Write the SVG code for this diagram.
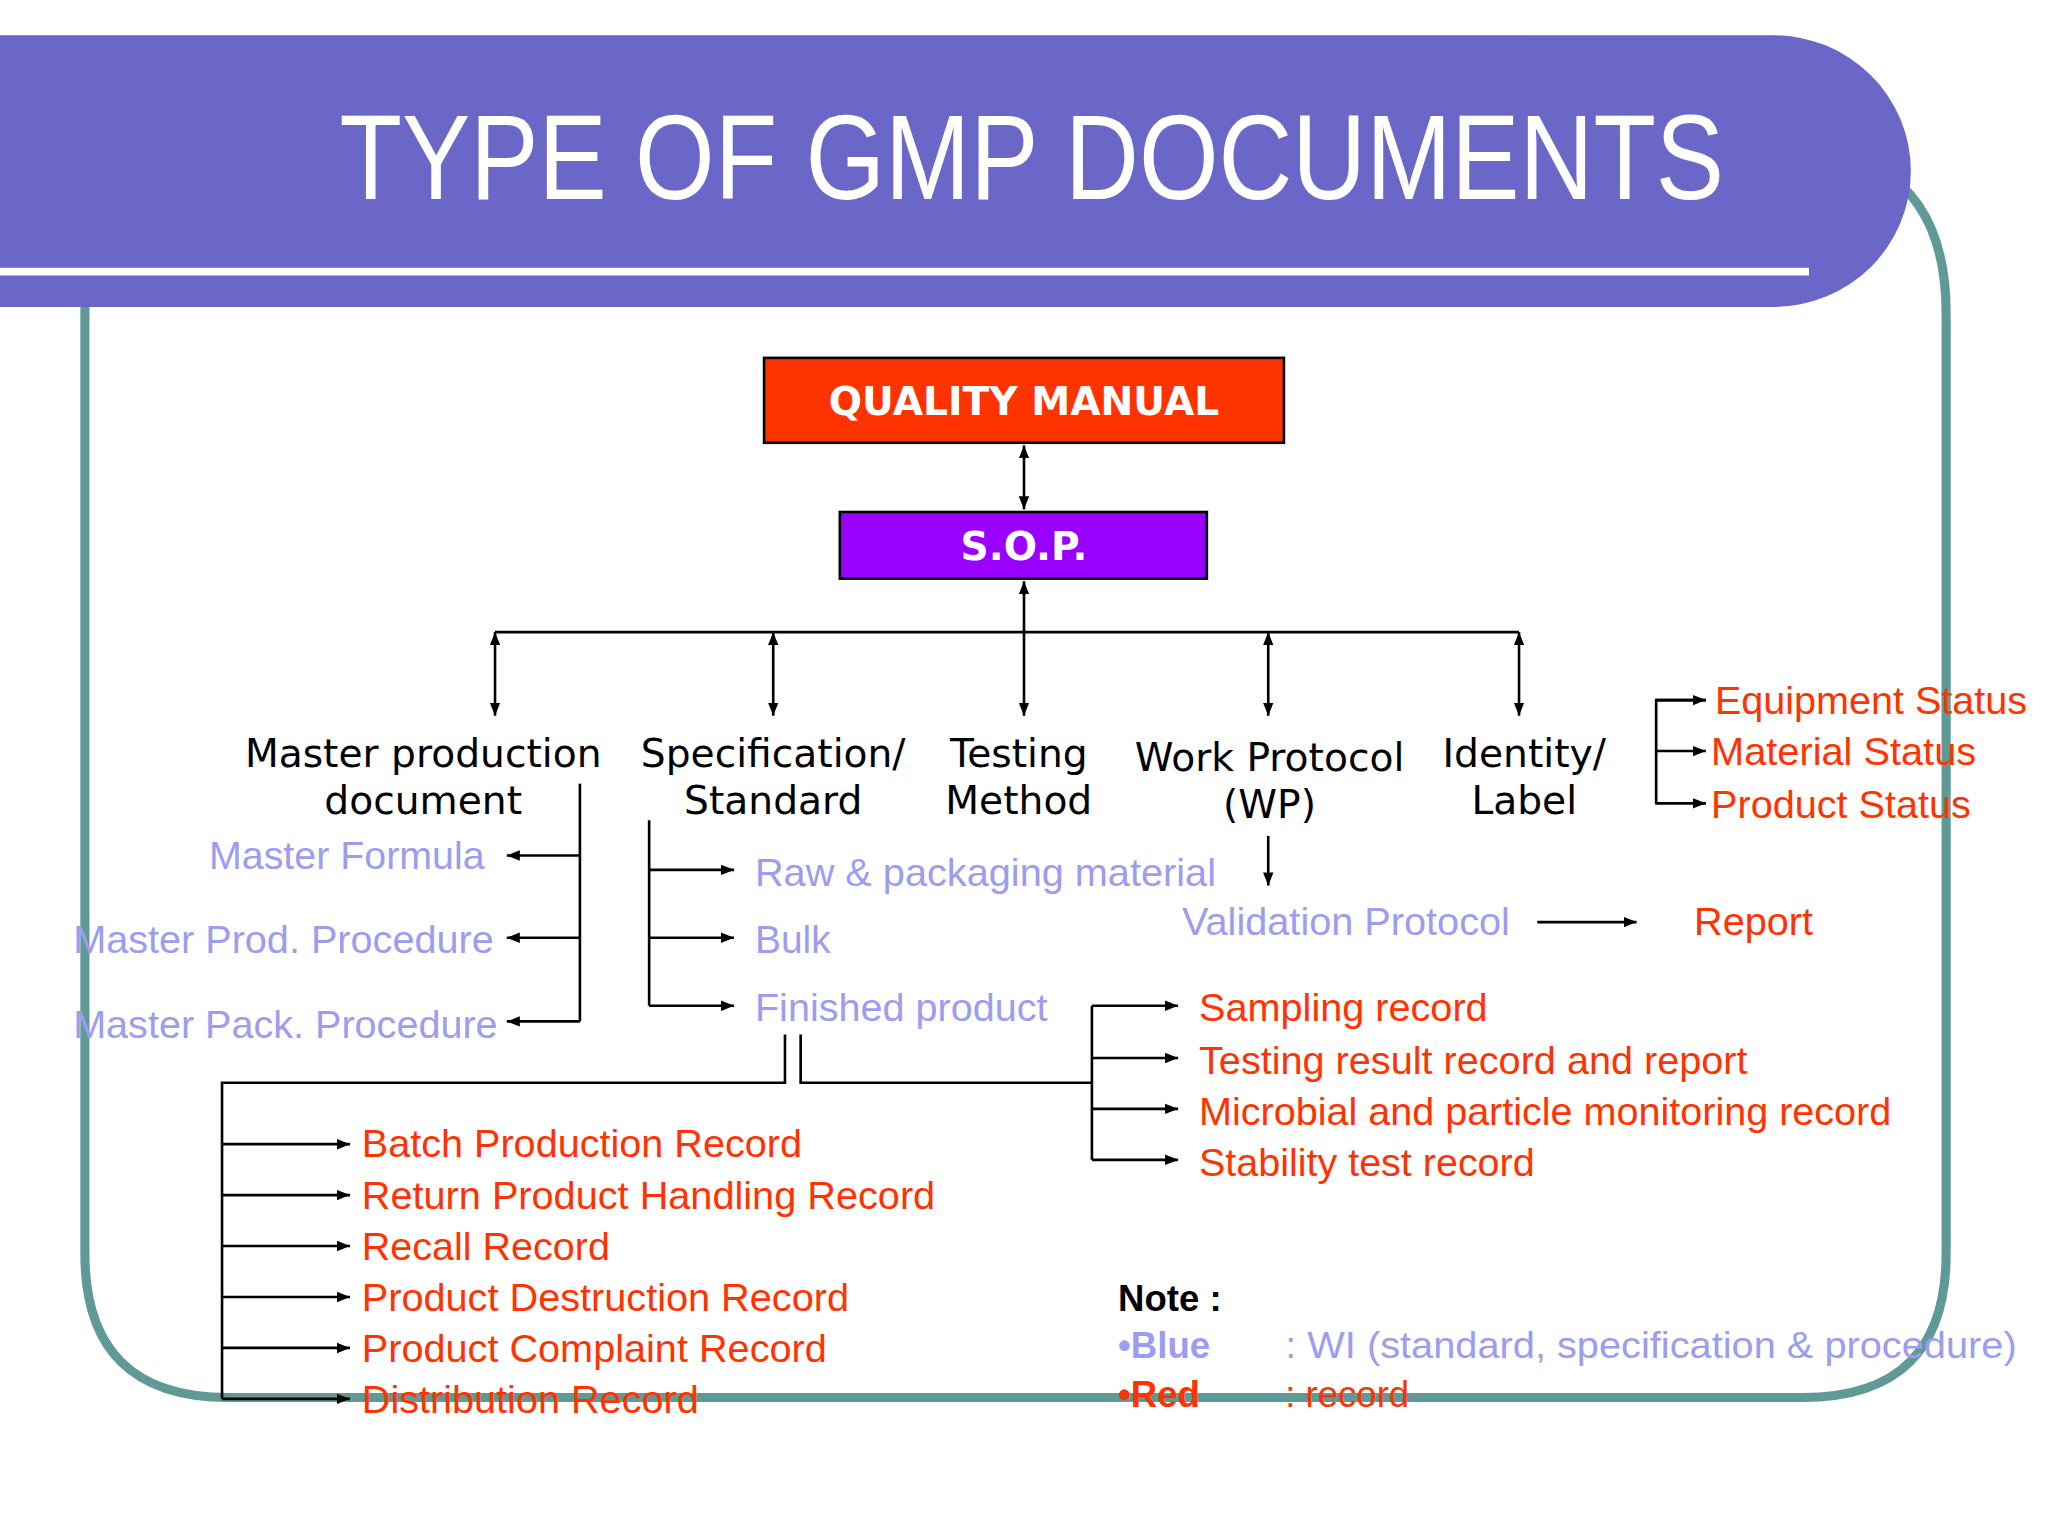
<svg xmlns="http://www.w3.org/2000/svg" width="2048" height="1536" viewBox="0 0 2048 1536">
<defs>
<marker id="ah" viewBox="0 0 10 10" refX="10" refY="5" markerWidth="10" markerHeight="10" markerUnits="userSpaceOnUse" orient="auto-start-reverse"><path d="M0,1 L10,5 L0,9 z" fill="#000"/></marker>
<style>
.ln{stroke:#000;stroke-width:2;fill:none}
.ar{stroke:#000;stroke-width:2;fill:none;marker-end:url(#ah)}
.da{stroke:#000;stroke-width:2;fill:none;marker-end:url(#ah);marker-start:url(#ah)}
.bk{font-family:"DejaVu Sans",Verdana,sans-serif;font-size:30px;fill:#000;text-anchor:middle}
.rd{font-family:"Liberation Sans",Arial,sans-serif;font-size:30px;fill:#ff3300}
.bl{font-family:"Liberation Sans",Arial,sans-serif;font-size:30px;fill:#9c9cf0}
.bx{font-family:"DejaVu Sans",Verdana,sans-serif;font-weight:bold;font-size:30px;fill:#fff;text-anchor:middle}
</style>
</defs>
<rect width="2048" height="1536" fill="#fff"/>
<g transform="scale(1.30612)">
<g id="frame">
<path d="M65,230 L65,960 Q65,1070 175,1070 L1380,1070 Q1490,1070 1490,960 L1490,240 Q1490,160 1440,130" fill="none" stroke="#5f9a96" stroke-width="7"/>
<path d="M0,27 L1358,27 A105,104 0 0 1 1358,235 L0,235 Z" fill="#6a67c9"/>
<line x1="0" y1="208" x2="1385" y2="208" stroke="#fff" stroke-width="6"/>
<text x="790" y="152" font-family="Liberation Sans,Arial,sans-serif" font-size="92" fill="#fff" text-anchor="middle" textLength="1060" lengthAdjust="spacingAndGlyphs">TYPE OF GMP DOCUMENTS</text>
</g>
<g id="qm"><rect x="585" y="274" width="398" height="65" fill="#ff3300" stroke="#000" stroke-width="2"/><text class="bx" x="784" y="318">QUALITY MANUAL</text></g>
<g id="sop"><rect x="643" y="392" width="281" height="51" fill="#9900ff" stroke="#000" stroke-width="2"/><text class="bx" x="784" y="429">S.O.P.</text></g>
<g id="connectors">
<line class="da" x1="784" y1="341" x2="784" y2="390"/>
<line class="da" x1="784" y1="445" x2="784" y2="548"/>
<line class="ln" x1="379" y1="484" x2="1163" y2="484"/>
<line class="da" x1="379" y1="484" x2="379" y2="548"/>
<line class="da" x1="592" y1="484" x2="592" y2="548"/>
<line class="da" x1="971" y1="484" x2="971" y2="548"/>
<line class="da" x1="1163" y1="484" x2="1163" y2="548"/>
<line class="ln" x1="444" y1="600" x2="444" y2="782"/>
<line class="ar" x1="444" y1="655" x2="388" y2="655"/>
<line class="ar" x1="444" y1="718" x2="388" y2="718"/>
<line class="ar" x1="444" y1="782" x2="388" y2="782"/>
<line class="ln" x1="497" y1="628" x2="497" y2="770"/>
<line class="ar" x1="497" y1="666" x2="562" y2="666"/>
<line class="ar" x1="497" y1="718" x2="562" y2="718"/>
<line class="ar" x1="497" y1="770" x2="562" y2="770"/>
<line class="ar" x1="971" y1="640" x2="971" y2="678"/>
<line class="ar" x1="1177" y1="706" x2="1253" y2="706"/>
<path class="ln" d="M1306,536 L1268,536 L1268,615 L1306,615"/>
<line class="ar" x1="1268" y1="536" x2="1306" y2="536"/>
<line class="ar" x1="1268" y1="575" x2="1306" y2="575"/>
<line class="ar" x1="1268" y1="615" x2="1306" y2="615"/>
<path class="ln" d="M601,792 L601,829 L170,829 L170,1071"/>
<path class="ln" d="M613,792 L613,829 L836,829"/>
<line class="ln" x1="836" y1="770" x2="836" y2="888"/>
<line class="ar" x1="170" y1="876" x2="268" y2="876"/>
<line class="ar" x1="170" y1="915" x2="268" y2="915"/>
<line class="ar" x1="170" y1="954" x2="268" y2="954"/>
<line class="ar" x1="170" y1="993" x2="268" y2="993"/>
<line class="ar" x1="170" y1="1032" x2="268" y2="1032"/>
<line class="ar" x1="170" y1="1071" x2="268" y2="1071"/>
<line class="ar" x1="836" y1="770" x2="902" y2="770"/>
<line class="ar" x1="836" y1="810" x2="902" y2="810"/>
<line class="ar" x1="836" y1="849" x2="902" y2="849"/>
<line class="ar" x1="836" y1="888" x2="902" y2="888"/>
</g>
<g id="mpd"><text class="bk" x="324" y="587">Master production</text><text class="bk" x="324" y="623">document</text></g>
<g id="spec"><text class="bk" x="592" y="587">Specification/</text><text class="bk" x="592" y="623">Standard</text></g>
<g id="tm"><text class="bk" x="780" y="587">Testing</text><text class="bk" x="780" y="623">Method</text></g>
<g id="wp"><text class="bk" x="972" y="590">Work Protocol</text><text class="bk" x="972" y="626">(WP)</text></g>
<g id="il"><text class="bk" x="1167" y="587">Identity/</text><text class="bk" x="1167" y="623">Label</text></g>
<g id="blue-items">
<text class="bl" x="160" y="665" textLength="211" lengthAdjust="spacingAndGlyphs">Master Formula</text>
<text class="bl" x="56" y="730" textLength="322" lengthAdjust="spacingAndGlyphs">Master Prod. Procedure</text>
<text class="bl" x="56" y="795" textLength="325" lengthAdjust="spacingAndGlyphs">Master Pack. Procedure</text>
<text class="bl" x="578" y="678" textLength="353" lengthAdjust="spacingAndGlyphs">Raw &amp; packaging material</text>
<text class="bl" x="578" y="730" textLength="58" lengthAdjust="spacingAndGlyphs">Bulk</text>
<text class="bl" x="578" y="782" textLength="224" lengthAdjust="spacingAndGlyphs">Finished product</text>
<text class="bl" x="905" y="716" textLength="251" lengthAdjust="spacingAndGlyphs">Validation Protocol</text>
</g>
<g id="red-items">
<text class="rd" x="1297" y="716" textLength="91" lengthAdjust="spacingAndGlyphs">Report</text>
<text class="rd" x="1313" y="547" textLength="239" lengthAdjust="spacingAndGlyphs">Equipment Status</text>
<text class="rd" x="1310" y="586" textLength="203" lengthAdjust="spacingAndGlyphs">Material Status</text>
<text class="rd" x="1310" y="626" textLength="199" lengthAdjust="spacingAndGlyphs">Product Status</text>
<text class="rd" x="277" y="886" textLength="337" lengthAdjust="spacingAndGlyphs">Batch Production Record</text>
<text class="rd" x="277" y="926" textLength="439" lengthAdjust="spacingAndGlyphs">Return Product Handling Record</text>
<text class="rd" x="277" y="965" textLength="190" lengthAdjust="spacingAndGlyphs">Recall Record</text>
<text class="rd" x="277" y="1004" textLength="373" lengthAdjust="spacingAndGlyphs">Product Destruction Record</text>
<text class="rd" x="277" y="1043" textLength="356" lengthAdjust="spacingAndGlyphs">Product Complaint Record</text>
<text class="rd" x="277" y="1082" textLength="258" lengthAdjust="spacingAndGlyphs">Distribution Record</text>
<text class="rd" x="918" y="782" textLength="221" lengthAdjust="spacingAndGlyphs">Sampling record</text>
<text class="rd" x="918" y="822" textLength="420" lengthAdjust="spacingAndGlyphs">Testing result record and report</text>
<text class="rd" x="918" y="861" textLength="530" lengthAdjust="spacingAndGlyphs">Microbial and particle monitoring record</text>
<text class="rd" x="918" y="900" textLength="257" lengthAdjust="spacingAndGlyphs">Stability test record</text>
</g>
<g id="note" font-family="Liberation Sans,Arial,sans-serif" font-size="28">
<text x="856" y="1004" font-weight="bold" fill="#000">Note :</text>
<text x="856" y="1040" font-weight="bold" fill="#9c9cf0">•Blue</text>
<text x="984" y="1040" fill="#9c9cf0" textLength="560" lengthAdjust="spacingAndGlyphs">: WI (standard, specification &amp; procedure)</text>
<text x="856" y="1077" font-weight="bold" fill="#ff3300">•Red</text>
<text x="984" y="1077" fill="#ff3300">: record</text>
</g>
</g>
</svg>
